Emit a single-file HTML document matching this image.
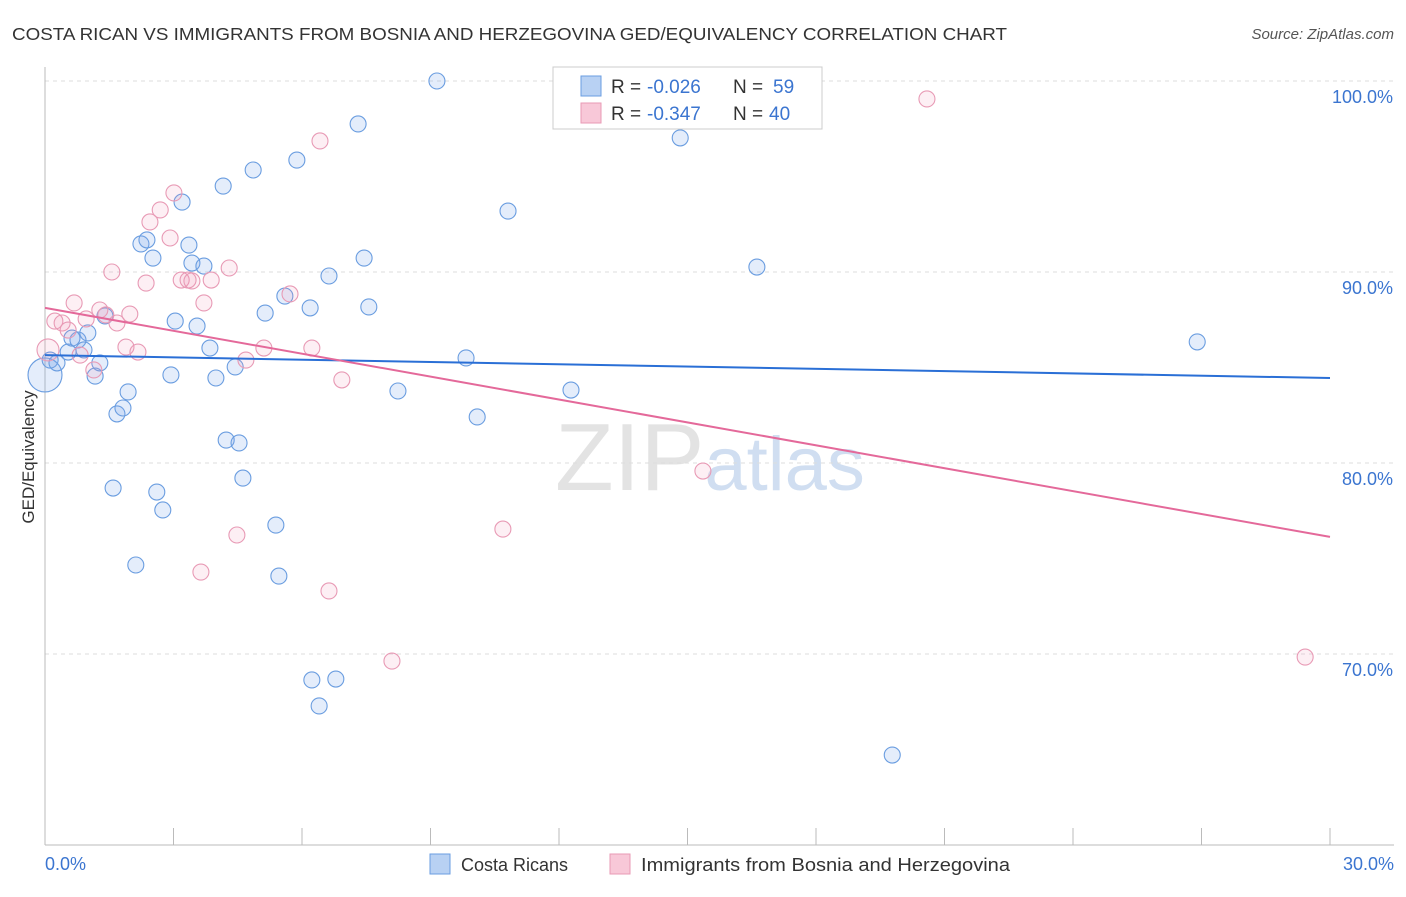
<!DOCTYPE html>
<html><head><meta charset="utf-8">
<style>
body{margin:0;background:#fff;font-family:"Liberation Sans",sans-serif;}
svg text{font-family:"Liberation Sans",sans-serif;}
</style></head>
<body>
<svg id="chart" width="1406" height="892" xmlns="http://www.w3.org/2000/svg">
<text x="12" y="40" font-size="17.5" fill="#333" textLength="995" lengthAdjust="spacingAndGlyphs">COSTA RICAN VS IMMIGRANTS FROM BOSNIA AND HERZEGOVINA GED/EQUIVALENCY CORRELATION CHART</text>
<text x="1394" y="39" font-size="15" fill="#555" text-anchor="end" font-style="italic">Source: ZipAtlas.com</text>
<text x="555" y="490" font-size="96" fill="#ddd" font-family="Liberation Serif" opacity="0.8">ZIP<tspan fill="#c5d7ee" font-family="Liberation Sans" font-size="76">atlas</tspan></text>
<text transform="translate(34,457) rotate(-90)" font-size="17" fill="#333" text-anchor="middle">GED/Equivalency</text>
<g id="grid"></g>
<g id="axes"></g>
<g id="marks"></g>
<g>
<rect x="553" y="67" width="269" height="62" fill="#fff" stroke="#ccc"/>
<rect x="581" y="76" width="20" height="20" fill="#b8d1f3" stroke="#6a9de0"/>
<rect x="581" y="103" width="20" height="20" fill="#f8c8d8" stroke="#e89ab5"/>
<text font-size="19" fill="#333"><tspan x="611" y="93">R = </tspan><tspan x="647" y="93" fill="#3b75d0">-0.026</tspan><tspan x="733" y="93">N = </tspan><tspan x="773" y="93" fill="#3b75d0">59</tspan></text>
<text font-size="19" fill="#333"><tspan x="611" y="120">R = </tspan><tspan x="647" y="120" fill="#3b75d0">-0.347</tspan><tspan x="733" y="120">N = </tspan><tspan x="769" y="120" fill="#3b75d0">40</tspan></text>
</g>
<g>
<rect x="430" y="854" width="20" height="20" fill="#b8d1f3" stroke="#6a9de0"/>
<text x="461" y="871" font-size="18" fill="#333">Costa Ricans</text>
<rect x="610" y="854" width="20" height="20" fill="#f8c8d8" stroke="#e89ab5"/>
<text x="641" y="871" font-size="18" fill="#333" textLength="369" lengthAdjust="spacingAndGlyphs">Immigrants from Bosnia and Herzegovina</text>
</g>
</svg>
<script>
const yTicks=[100,90,80,70];
const yTickLabels=["100.0%","90.0%","80.0%","70.0%"];
const xTickLabels=["0.0%","30.0%"];
const blueX=[0,0.12,0.28,0.54,0.63,0.77,0.91,1.00,1.17,1.28,1.40,1.59,1.68,1.82,1.94,2.12,2.24,2.38,2.52,2.61,2.75,2.94,3.04,3.20,3.36,3.43,3.55,3.71,3.85,3.99,4.16,4.23,4.44,4.53,4.62,4.86,5.14,5.39,5.46,5.60,5.88,6.19,6.23,6.40,6.63,6.79,7.31,7.45,7.56,8.24,9.15,9.83,10.09,10.81,12.28,14.83,16.62,19.78,26.90];
const blueY=[84.61,85.39,85.24,85.81,86.54,86.44,85.92,86.81,84.55,85.24,87.70,78.69,82.57,82.88,83.72,74.66,91.47,91.68,90.73,78.48,77.54,84.61,87.43,93.66,91.41,90.47,87.17,90.31,86.02,84.45,94.50,81.20,85.03,81.05,79.21,95.34,87.85,76.75,74.08,88.74,95.86,88.12,68.64,67.28,89.79,68.69,97.75,90.73,88.17,83.77,100.0,85.50,82.41,93.19,83.82,97.02,90.26,64.71,86.34];
const pinkX=[0.07,0.23,0.40,0.54,0.68,0.82,0.96,1.14,1.28,1.42,1.56,1.68,1.89,1.98,2.17,2.36,2.45,2.69,2.92,3.01,3.18,3.34,3.43,3.71,3.88,4.30,4.48,3.64,4.69,5.11,5.72,6.23,6.42,6.63,6.93,8.10,10.69,15.36,20.59,29.42];
const pinkY=[85.92,87.43,87.33,86.96,88.38,85.65,87.54,84.87,88.01,87.75,90.00,87.33,86.07,87.80,85.81,89.42,92.62,93.25,91.78,94.14,89.58,89.58,89.53,88.38,89.58,90.21,76.23,74.29,85.39,86.02,88.85,86.02,96.86,73.30,84.35,69.63,76.54,79.58,99.06,69.84];
const blueTrend=[85.65,84.45];
const pinkTrend=[88.12,76.13];
const NS="http://www.w3.org/2000/svg";
const X=v=>45+v/30*1285;
const Y=v=>81+(100-v)*19.1;
function mk(tag,attrs,parent){const e=document.createElementNS(NS,tag);for(const k in attrs)e.setAttribute(k,attrs[k]);document.getElementById(parent).appendChild(e);return e;}
yTicks.forEach((t,i)=>{
 const l=mk('line',{x1:45,x2:1394,y1:Y(t),y2:Y(t),stroke:'#ddd','stroke-dasharray':'4,4'},'grid');
 
 
 const tx=mk('text',{x:1393,y:Y(t)+22,'font-size':18,fill:'#3b75d0','text-anchor':'end'},'grid');
 tx.textContent=yTickLabels[i];
 
 
});
let a=mk('line',{x1:45,x2:45,y1:67,y2:845,stroke:'#bbb'},'axes');


a=mk('line',{x1:45,x2:1394,y1:845,y2:845,stroke:'#bbb'},'axes');


for(let i=0;i<=10;i++){
 const t=mk('line',{x1:X(i*3),x2:X(i*3),y1:828,y2:845,stroke:'#bbb'},'axes');
 
 
}
let xl=mk('text',{x:45,y:870,'font-size':18,fill:'#3b75d0'},'axes');xl.textContent=xTickLabels[0];


xl=mk('text',{x:1394,y:870,'font-size':18,fill:'#3b75d0','text-anchor':'end'},'axes');xl.textContent=xTickLabels[1];


blueX.forEach((v,i)=>{
 const c=mk('circle',{cx:X(v),cy:Y(blueY[i]),r:i===0?17:8,fill:'rgba(120,165,235,0.2)',stroke:'#6a9de0','stroke-width':1.1},'marks');
 
 
});
pinkX.forEach((v,i)=>{
 const c=mk('circle',{cx:X(v),cy:Y(pinkY[i]),r:i===0?11:8,fill:'rgba(240,150,180,0.15)',stroke:'#e89ab5','stroke-width':1.1},'marks');
 
 
});
let tl=mk('line',{x1:X(0),x2:X(30),y1:Y(blueTrend[0]),y2:Y(blueTrend[1]),stroke:'#2a6fd6','stroke-width':2},'marks');


tl=mk('line',{x1:X(0),x2:X(30),y1:Y(pinkTrend[0]),y2:Y(pinkTrend[1]),stroke:'#e4699a','stroke-width':2},'marks');


</script>
</body></html>
